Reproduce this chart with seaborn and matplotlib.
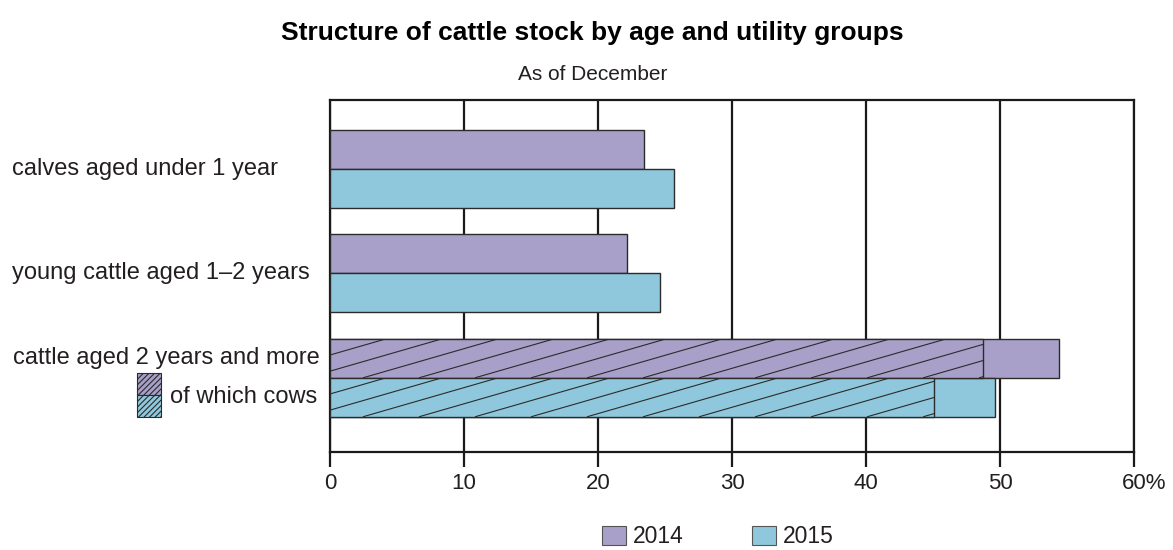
import numpy as np
import pandas as pd
import matplotlib
matplotlib.use("Agg")
import matplotlib.pyplot as plt
import matplotlib.transforms as mtransforms
from matplotlib.patches import Rectangle, Patch
from matplotlib.collections import LineCollection
import seaborn as sns

# ---------------- data ----------------
categories = ["calves aged under 1 year",
              "young cattle aged 1\u20132 years",
              "cattle aged 2 years and more"]
years = ["2014", "2015"]
values_2014 = [23.4, 22.2, 54.4]
values_2015 = [25.7, 24.6, 49.6]
cows_label = "of which cows"
cows_2014 = [48.7]
cows_2015 = [45.1]
xticks = [0, 10, 20, 30, 40, 50, 60]
xtick_labels = ["0", "10", "20", "30", "40", "50", "60%"]
title = "Structure of cattle stock by age and utility groups"
subtitle = "As of December"

# ---------------- style ----------------
sns.set_theme(style="white")
plt.rcParams["font.family"] = ["Liberation Sans", "DejaVu Sans"]
TXT = "#231f20"
C14 = "#a8a0c8"
C15 = "#8fc8dc"
EDGE = "#2b2b2b"

df = pd.DataFrame({
    "category": categories * 2,
    "year": [years[0]] * 3 + [years[1]] * 3,
    "value": values_2014 + values_2015,
})
df_cows = pd.DataFrame({
    "category": [categories[2]] * 2,
    "year": years,
    "value": cows_2014 + cows_2015,
})

fig = plt.figure(figsize=(11.73, 5.5), dpi=100)
ax = fig.add_axes([0.2813, 0.1782, 0.9668 - 0.2813, 0.8182 - 0.1782])

sns.barplot(data=df, y="category", x="value", hue="year", order=categories,
            hue_order=years, palette=[C14, C15], saturation=1, orient="h",
            width=0.746, edgecolor=EDGE, linewidth=1.0, legend=False, ax=ax,
            zorder=3)
n_before = len(ax.patches)
sns.barplot(data=df_cows, y="category", x="value", hue="year", order=categories,
            hue_order=years, palette=[C14, C15], saturation=1, orient="h",
            width=0.746, edgecolor=EDGE, linewidth=1.0, legend=False, ax=ax,
            zorder=4)
cow_patches = ax.patches[n_before:]

ax.set_xlim(0, 60)
ax.set_ylim(2.71, -0.66)

# shallow diagonal hatching on the "of which cows" part
slope = 0.037       # y-units per x-unit (line rises to the right)
spacing = 4.18      # x-units between hatch lines
for p in cow_patches:
    x0, y0, w, h = p.get_x(), p.get_y(), p.get_width(), p.get_height()
    if w <= 0 or np.isnan(w):
        continue
    ybot = y0 + h
    span = h / slope
    starts = np.arange(x0 - span, x0 + w, spacing)
    segs = [[(s, ybot), (s + span, y0)] for s in starts]
    lc = LineCollection(segs, colors=EDGE, linewidths=0.8, zorder=5)
    ax.add_collection(lc)
    lc.set_clip_path(p)

# grid / frame
ax.set_xticks(xticks)
ax.set_xticklabels(xtick_labels, fontsize=16, color=TXT)
ax.xaxis.grid(True, color="#1a1a1a", linewidth=1.6, zorder=0)
ax.set_axisbelow(True)
for s in ax.spines.values():
    s.set_color("#1a1a1a")
    s.set_linewidth(1.6)
ax.tick_params(axis="x", which="both", length=11, width=1.6, color="#1a1a1a",
               direction="out", pad=4, bottom=True)
ax.tick_params(axis="y", left=False, labelleft=False)
ax.set_xlabel("")
ax.set_ylabel("")
# center "60" on its tick, letting "%" hang out
lbl = ax.get_xticklabels()[-1]
lbl.set_transform(lbl.get_transform() +
                  mtransforms.ScaledTranslation(0.105, 0, fig.dpi_scale_trans))

# category labels, left aligned
tr = mtransforms.blended_transform_factory(fig.transFigure, ax.transData)
half = 0.746 / 4
ax.text(0.0105, 0, categories[0], transform=tr, ha="left", va="center",
        fontsize=17, color=TXT)
ax.text(0.0105, 1, categories[1], transform=tr, ha="left", va="center",
        fontsize=17, color=TXT)
ax.text(0.0115, 2 - half, categories[2], transform=tr, ha="left", va="center",
        fontsize=17, color=TXT)
ax.text(0.145, 2 + half, cows_label, transform=tr, ha="left", va="center",
        fontsize=17, color=TXT)

# small hatched key for "of which cows"
plt.rcParams["hatch.linewidth"] = 0.8
sx, sw = 137 / 1173, 24 / 1173
for (ytop, col) in [(373, C14), (395, C15)]:
    r = Rectangle((sx, 1 - (ytop + 22) / 550), sw, 22 / 550,
                  transform=fig.transFigure, facecolor=col, edgecolor=EDGE,
                  linewidth=0.8, hatch="//////")
    fig.patches.append(r)

# titles
fig.text(0.505, 0.940, title, ha="center", va="center", fontsize=19,
         fontweight="bold", color="black")
fig.text(0.505, 0.865, subtitle, ha="center", va="center", fontsize=15,
         color=TXT)

# legend
handles = [Patch(facecolor=C14, edgecolor="#555555", linewidth=0.8, label=years[0]),
           Patch(facecolor=C15, edgecolor="#555555", linewidth=0.8, label=years[1])]
leg = fig.legend(handles=handles, loc="lower center", bbox_to_anchor=(0.612, -0.018),
                 ncol=2, frameon=False, fontsize=16.5, handlelength=1.05,
                 handleheight=0.85, handletextpad=0.3, columnspacing=3.0,
                 borderpad=0.0, labelcolor=TXT)

fig.savefig("out.png", dpi=100)
